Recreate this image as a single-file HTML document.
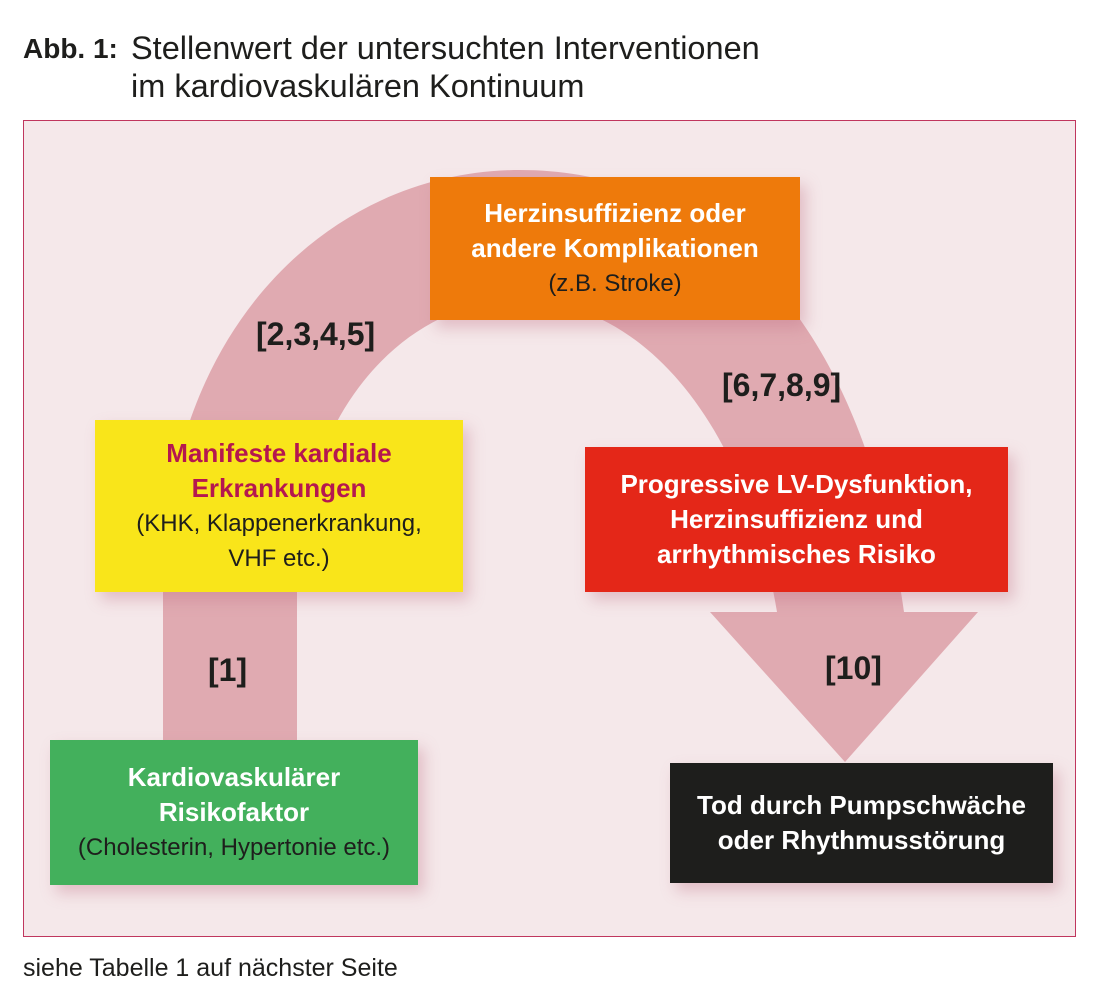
<!DOCTYPE html>
<html><head><meta charset="utf-8"><style>
body{margin:0;width:1100px;height:995px;background:#fff;position:relative;font-family:"Liberation Sans",sans-serif;overflow:hidden}
.t{position:absolute;font-size:32.5px;color:#1e1e1c;line-height:37px;white-space:nowrap}
.frame{position:absolute;left:23px;top:120px;width:1051px;height:815px;border:1.5px solid #c0365e;background:#f5e8ea}
.box{position:absolute;display:flex;flex-direction:column;justify-content:center;align-items:center;text-align:center;box-shadow:6px 8px 14px rgba(190,110,130,.35);font-size:24px;line-height:35px;white-space:nowrap}
.b{font-weight:bold;font-size:26px}
.lab{position:absolute;font-weight:bold;font-size:32px;color:#1e1e1c}
</style></head><body>
<div class="t" style="top:30px;left:23px;font-size:28px;font-weight:bold">Abb. 1:</div>
<div class="t" style="top:30px;left:131px">Stellenwert der untersuchten Interventionen</div>
<div class="t" style="top:68px;left:131px">im kardiovaskulären Kontinuum</div>
<div class="frame"></div>
<svg style="position:absolute;left:0;top:0" width="1100" height="995">
<path d="M163,740 L163,590 C163,330 330,170 520,170 C700,170 860,300 904,612 L978,612 L845,762 L710,612 L777,612 C745,420 640,300 520,300 C400,300 297,420 297,590 L297,740 Z" fill="#e0aab1"/>
</svg>
<div class="box" style="left:430px;top:177px;width:370px;height:143px;background:#ee7a0b;color:#fff"><span class="b">Herzinsuffizienz oder<br>andere Komplikationen</span><span style="color:#1e1e1c">(z.B. Stroke)</span></div>
<div class="box" style="left:95px;top:420px;width:368px;height:172px;background:#f9e51a;color:#1e1e1c"><span class="b" style="color:#b5174f">Manifeste kardiale<br>Erkrankungen</span><span>(KHK, Klappenerkrankung,<br>VHF etc.)</span></div>
<div class="box b" style="left:585px;top:447px;width:423px;height:145px;background:#e42718;color:#fff">Progressive LV-Dysfunktion,<br>Herzinsuffizienz und<br>arrhythmisches Risiko</div>
<div class="box" style="left:50px;top:740px;width:368px;height:145px;background:#43b05c;color:#fff"><span class="b">Kardiovaskulärer<br>Risikofaktor</span><span style="color:#1e1e1c">(Cholesterin, Hypertonie etc.)</span></div>
<div class="box b" style="left:670px;top:763px;width:383px;height:120px;background:#1e1e1c;color:#fff">Tod durch Pumpschwäche<br>oder Rhythmusstörung</div>
<div class="lab" style="left:256px;top:316px">[2,3,4,5]</div>
<div class="lab" style="left:722px;top:367px">[6,7,8,9]</div>
<div class="lab" style="left:208px;top:652px">[1]</div>
<div class="lab" style="left:825px;top:650px">[10]</div>
<div style="position:absolute;left:23px;top:954px;font-size:25px;color:#1e1e1c">siehe Tabelle 1 auf nächster Seite</div>
</body></html>
